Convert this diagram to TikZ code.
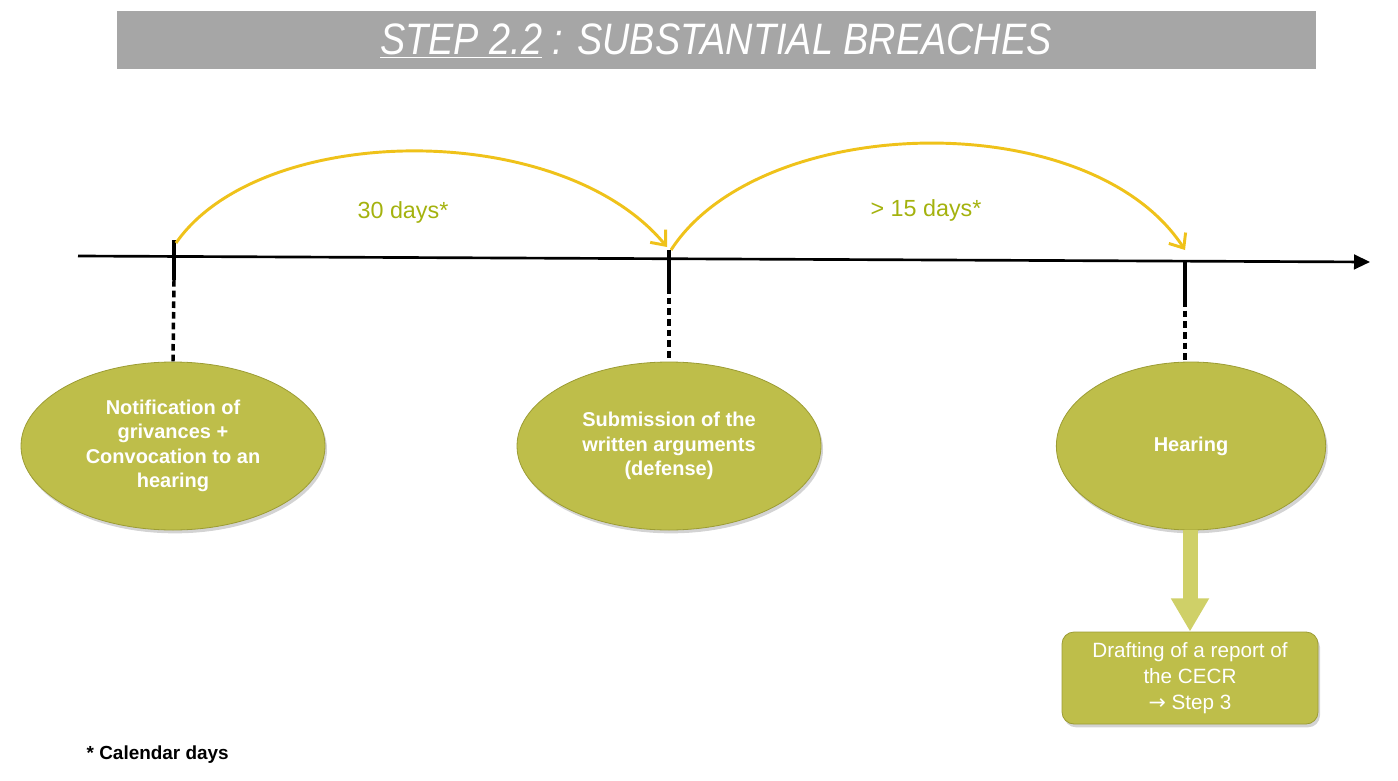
\documentclass[tikz,border=0pt]{standalone}
\usepackage{fontspec}
\setmainfont{Liberation Sans}
\newfontfamily\titlefont[FakeStretch=0.86]{Liberation Sans}
\newfontfamily\arrowfont{DejaVu Sans}
\usepackage{tikz}
\usetikzlibrary{arrows.meta, shadows, shapes.geometric}

\definecolor{titlegray}{HTML}{A6A6A6}
\definecolor{olivefill}{HTML}{BEBE4A}
\definecolor{oliveedge}{HTML}{9C9C34}
\definecolor{olivelight}{HTML}{CFD068}
\definecolor{arcyellow}{HTML}{EFC21A}
\definecolor{daysgreen}{HTML}{A4B20E}

\begin{document}
\begin{tikzpicture}[x=0.75pt, y=-0.75pt,
    event/.style={ellipse, fill=olivefill, draw=oliveedge, line width=0.6pt,
      minimum width=228pt, minimum height=126pt, text=white, align=center,
      font=\fontsize{15}{18.4}\selectfont\bfseries,
      drop shadow={shadow xshift=1.5pt, shadow yshift=-2.5pt, opacity=0.35}},
    tick/.style={line width=3.6pt},
    drop/.style={line width=2.6pt, dash pattern=on 5pt off 3pt},
    span/.style={arcyellow, line width=2.2pt, -{Straight Barb[length=9pt, width=15pt]}},
    days/.style={daysgreen, font=\fontsize{17.5}{20}\selectfont}]

  \useasboundingbox (0,0) rectangle (1398,781);

  % ----- Title bar -----
  \fill[titlegray] (117,11) rectangle (1316,69);
  \node[text=white, font=\titlefont\itshape\fontsize{33}{36}\selectfont] (title) at (716,41)
    {\underline{STEP 2.2} : SUBSTANTIAL BREACHES};

  % ----- Time axis -----
  \coordinate (start) at (78,256);
  \coordinate (end) at (1370,262);
  \draw[line width=2pt, -{Triangle[length=12pt, width=11pt]}] (start) -- (end);

  % Ticks on the axis
  \coordinate (t1top) at (174,240); \coordinate (t1bot) at (174,280);
  \coordinate (t2top) at (669,250); \coordinate (t2bot) at (669,287);
  \coordinate (t3top) at (1185,260); \coordinate (t3bot) at (1185,300);
  \foreach \t in {1,2,3} {
    \draw[tick] (t\t top) -- (t\t bot);
  }

  % ----- Events -----
  \node[event] (notif) at (173,446) {Notification of\\grivances +\\Convocation to an\\hearing};
  \node[event] (submit) at (669,446) {Submission of the\\written arguments\\(defense)};
  \node[event, minimum width=202pt] (hear) at (1191,446) {Hearing};

  % Dashed drops from ticks to events
  \draw[drop] (t1bot) -- (notif.north);
  \draw[drop] (t2bot) -- (submit.north);
  \draw[drop] (t3bot) -- (t3bot |- hear.north);

  % ----- Delays -----
  \coordinate (a1) at (176,243);
  \coordinate (a2) at (667,247);
  \coordinate (a2b) at (671,250);
  \coordinate (a3) at (1185,250);
  \draw[span] (a1) .. controls (260,122) and (560,118) .. (a2);
  \draw[span] (a2b) .. controls (760,112) and (1090,104) .. (a3);
  \node[days] (d30) at (403,212) {30 days*};
  \node[days] (d15) at (926,210) {> 15 days*};

  % ----- Report after hearing -----
  \node[fill=olivefill, draw=oliveedge, line width=0.6pt, rounded corners=9pt,
    minimum width=192pt, minimum height=69pt, text=white, align=center,
    font=\fontsize{15.5}{19.5}\selectfont,
    drop shadow={shadow xshift=1.5pt, shadow yshift=-2.5pt, opacity=0.35}]
    (report) at (1190,678) {Drafting of a report of\\the CECR\\{\arrowfont\symbol{"2192}} Step 3};
  \draw[olivelight, line width=11.25pt, -{Triangle[length=25pt, width=27pt]}]
    (report.north |- hear.south) -- (report.north);

  % ----- Footnote -----
  \node[anchor=west, font=\fontsize{14.2}{16}\selectfont\bfseries] (note) at (82,755) {* Calendar days};

\end{tikzpicture}
\end{document}
